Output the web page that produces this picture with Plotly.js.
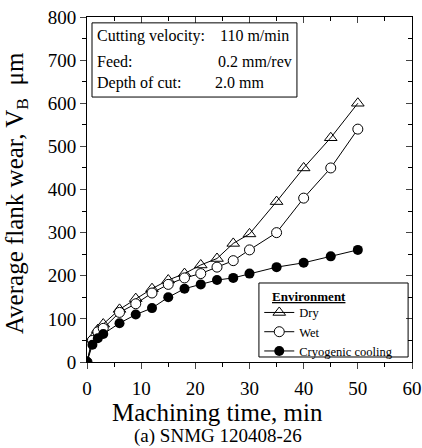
<!DOCTYPE html>
<html>
<head>
<meta charset="utf-8">
<script src="https://cdn.plot.ly/plotly-3.0.1.min.js"></script>
<style>html,body{margin:0;padding:0;background:#fff;}#chart{width:422px;height:448px;}</style>
</head>
<body>
<div id="chart"></div>
<script>
const time = [0, 1, 2, 3, 6, 9, 12, 15, 18, 21, 24, 27, 30, 35, 40, 45, 50];
const dryWear = [0, 55, 75, 88, 122, 147, 170, 190, 205, 225, 240, 275, 297, 372, 450, 520, 600];
const wetWear = [0, 50, 70, 78, 115, 135, 160, 180, 195, 205, 220, 235, 260, 300, 380, 450, 540];
const cryoWear = [0, 40, 55, 65, 90, 110, 125, 150, 170, 180, 190, 195, 205, 220, 230, 245, 260];
const seriesNames = ["Dry", "Wet", "Cryogenic cooling"];

const font = "Liberation Serif, Times New Roman, serif";
const traces = [
  {x: time, y: dryWear, name: seriesNames[0], mode: "lines+markers",
   line: {color: "#000", width: 1},
   marker: {symbol: "triangle-up-open", size: 11, color: "#000", line: {width: 1}}},
  {x: time, y: wetWear, name: seriesNames[1], mode: "lines+markers",
   line: {color: "#000", width: 1},
   marker: {symbol: "circle", size: 10, color: "#fff", line: {color: "#000", width: 1}}},
  {x: time, y: cryoWear, name: seriesNames[2], mode: "lines+markers",
   line: {color: "#000", width: 1},
   marker: {symbol: "circle", size: 10, color: "#000"}},
  {x: [0], y: [0], xaxis: "x2", yaxis: "y2", showlegend: false, hoverinfo: "skip",
   mode: "markers", marker: {opacity: 0}}
];

const layout = {
  width: 422, height: 448,
  margin: {l: 87, r: 10, t: 17, b: 86},
  paper_bgcolor: "#fff", plot_bgcolor: "#fff",
  font: {family: font, color: "#000", size: 16},
  showlegend: true,
  legend: {
    x: 0.53, y: 0.186, xanchor: "left", yanchor: "top",
    borderwidth: 0, bgcolor: "rgba(0,0,0,0)",
    font: {family: font, size: 12.5, color: "#000"},
    tracegroupgap: 0, itemwidth: 30
  },
  xaxis: {
    range: [0, 60], dtick: 10, ticks: "outside", ticklen: 6, tickwidth: 1,
    showline: true, linecolor: "#000", linewidth: 1, zeroline: false, showgrid: false,
    minor: {dtick: 5, ticks: "outside", ticklen: 4, tickwidth: 1, tickcolor: "#000", showgrid: false},
    tickfont: {family: font, size: 19}, ticklabelstandoff: 3
  },
  yaxis: {
    range: [0, 800], dtick: 100, ticks: "outside", ticklen: 6, tickwidth: 1,
    showline: true, linecolor: "#000", linewidth: 1, zeroline: false, showgrid: false,
    minor: {dtick: 50, ticks: "outside", ticklen: 4, tickwidth: 1, tickcolor: "#000", showgrid: false},
    tickfont: {family: font, size: 19}
  },
  xaxis2: {
    overlaying: "x", side: "top", anchor: "y2", range: [0, 60], dtick: 10,
    ticks: "inside", ticklen: 6, tickwidth: 1, showticklabels: false,
    showline: true, linecolor: "#000", linewidth: 1, zeroline: false, showgrid: false,
    minor: {dtick: 5, ticks: "inside", ticklen: 4, tickwidth: 1, tickcolor: "#000", showgrid: false}
  },
  yaxis2: {
    overlaying: "y", side: "right", anchor: "x2", range: [0, 800], dtick: 100,
    ticks: "inside", ticklen: 6, tickwidth: 1, showticklabels: false,
    showline: true, linecolor: "#000", linewidth: 1, zeroline: false, showgrid: false,
    minor: {dtick: 50, ticks: "inside", ticklen: 4, tickwidth: 1, tickcolor: "#000", showgrid: false}
  },
  shapes: [
    {type: "rect", xref: "paper", yref: "paper", x0: 0.0154, x1: 0.646, y0: 0.768, y1: 0.983,
     line: {color: "#000", width: 1}, fillcolor: "rgba(0,0,0,0)"},
    {type: "rect", xref: "paper", yref: "paper", x0: 0.529, x1: 0.988, y0: 0.0145, y1: 0.229,
     line: {color: "#000", width: 1}, fillcolor: "rgba(0,0,0,0)"}
  ],
  annotations: [
    {xref: "paper", yref: "paper", x: 0.025, y: 0.945, xanchor: "left", yanchor: "middle",
     text: "Cutting velocity:", showarrow: false, font: {family: font, size: 16}},
    {xref: "paper", yref: "paper", x: 0.403, y: 0.945, xanchor: "left", yanchor: "middle",
     text: "110 m/min", showarrow: false, font: {family: font, size: 16}},
    {xref: "paper", yref: "paper", x: 0.025, y: 0.872, xanchor: "left", yanchor: "middle",
     text: "Feed:", showarrow: false, font: {family: font, size: 16}},
    {xref: "paper", yref: "paper", x: 0.637, y: 0.872, xanchor: "right", yanchor: "middle",
     text: "0.2 mm/rev", showarrow: false, font: {family: font, size: 16}},
    {xref: "paper", yref: "paper", x: 0.025, y: 0.809, xanchor: "left", yanchor: "middle",
     text: "Depth of cut:", showarrow: false, font: {family: font, size: 16}},
    {xref: "paper", yref: "paper", x: 0.388, y: 0.809, xanchor: "left", yanchor: "middle",
     text: "2.0 mm", showarrow: false, font: {family: font, size: 16}},
    {xref: "paper", yref: "paper", x: 0.563, y: 0.191, xanchor: "left", yanchor: "middle",
     text: "<b><u>Environment</u></b>", showarrow: false, font: {family: font, size: 13}},
    {xref: "paper", yref: "paper", x: 0.403, y: -0.145, xanchor: "center", yanchor: "middle",
     text: "Machining time, min", showarrow: false, font: {family: font, size: 25}},
    {xref: "paper", yref: "paper", x: -0.215, y: 0.49, xanchor: "center", yanchor: "middle",
     textangle: -90, text: "Average flank wear, V<sub>B</sub>\u00a0\u00a0\u03bcm", showarrow: false,
     font: {family: font, size: 25}},
    {xref: "paper", yref: "paper", x: 0.403, y: -0.249, xanchor: "center", yanchor: "bottom",
     text: "(a) SNMG 120408-26", showarrow: false, font: {family: font, size: 19}, borderpad: 0}
  ]
};

Plotly.newPlot("chart", traces, layout, {staticPlot: true, displayModeBar: false});
</script>
</body>
</html>
